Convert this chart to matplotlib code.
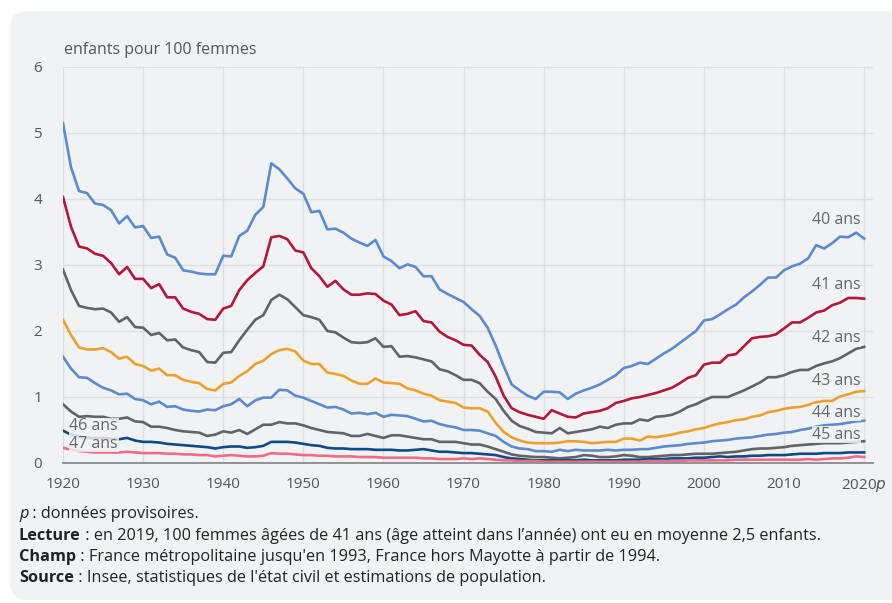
import matplotlib.pyplot as plt
from matplotlib.patches import FancyBboxPatch
import numpy as np

plt.rcParams['font.family'] = ['Open Sans', 'DejaVu Sans']

years = list(range(1920, 2021))

age40 = [5.15, 4.48, 4.12, 4.09, 3.93, 3.91, 3.83, 3.63, 3.74, 3.57,
         3.59, 3.41, 3.43, 3.16, 3.11, 2.92, 2.90, 2.87, 2.86, 2.86,
         3.14, 3.13, 3.44, 3.52, 3.76, 3.88, 4.54, 4.45, 4.31, 4.16,
         4.08, 3.80, 3.82, 3.54, 3.55, 3.49, 3.40, 3.34, 3.29, 3.38,
         3.13, 3.06, 2.95, 3.01, 2.97, 2.83, 2.83, 2.63, 2.56, 2.50,
         2.44, 2.33, 2.23, 2.05, 1.78, 1.47, 1.19, 1.10, 1.02, 0.97,
         1.08, 1.08, 1.07, 0.97, 1.05, 1.10, 1.14, 1.19, 1.26, 1.33,
         1.44, 1.47, 1.52, 1.50, 1.58, 1.66, 1.73, 1.82, 1.91, 2.00,
         2.16, 2.18, 2.25, 2.33, 2.40, 2.51, 2.60, 2.70, 2.81, 2.81,
         2.92, 2.98, 3.02, 3.10, 3.30, 3.25, 3.33, 3.43, 3.42, 3.49, 3.40]

age41 = [4.03, 3.58, 3.28, 3.25, 3.17, 3.14, 3.03, 2.86, 2.97, 2.79,
         2.79, 2.65, 2.71, 2.51, 2.51, 2.34, 2.29, 2.26, 2.18, 2.17,
         2.34, 2.38, 2.62, 2.77, 2.88, 2.98, 3.42, 3.44, 3.39, 3.22,
         3.19, 2.95, 2.83, 2.67, 2.76, 2.63, 2.55, 2.55, 2.57, 2.56,
         2.46, 2.40, 2.24, 2.26, 2.30, 2.15, 2.13, 1.99, 1.91, 1.86,
         1.79, 1.78, 1.64, 1.53, 1.31, 1.02, 0.83, 0.77, 0.73, 0.70,
         0.67, 0.80, 0.75, 0.70, 0.69, 0.75, 0.77, 0.79, 0.83, 0.91,
         0.94, 0.98, 1.00, 1.03, 1.06, 1.10, 1.14, 1.21, 1.29, 1.33,
         1.49, 1.52, 1.52, 1.63, 1.65, 1.77, 1.89, 1.91, 1.92, 1.95,
         2.04, 2.13, 2.13, 2.20, 2.28, 2.31, 2.39, 2.43, 2.50, 2.50, 2.49]

age42 = [2.93, 2.62, 2.38, 2.35, 2.33, 2.34, 2.28, 2.14, 2.21, 2.06,
         2.05, 1.94, 1.97, 1.86, 1.87, 1.75, 1.71, 1.68, 1.53, 1.52,
         1.67, 1.68, 1.86, 2.02, 2.17, 2.24, 2.47, 2.55, 2.48, 2.36,
         2.24, 2.21, 2.17, 2.00, 1.98, 1.90, 1.83, 1.82, 1.83, 1.89,
         1.76, 1.77, 1.61, 1.62, 1.60, 1.57, 1.54, 1.42, 1.39, 1.33,
         1.26, 1.26, 1.21, 1.08, 0.97, 0.79, 0.64, 0.56, 0.52, 0.47,
         0.46, 0.45, 0.53, 0.45, 0.47, 0.49, 0.51, 0.55, 0.53, 0.58,
         0.60, 0.60, 0.66, 0.64, 0.70, 0.71, 0.73, 0.78, 0.85, 0.89,
         0.95, 1.00, 1.00, 1.00, 1.05, 1.10, 1.16, 1.22, 1.30, 1.30,
         1.33, 1.38, 1.41, 1.41, 1.47, 1.51, 1.54, 1.59, 1.66, 1.73, 1.76]

age43 = [2.17, 1.94, 1.75, 1.72, 1.72, 1.74, 1.68, 1.58, 1.61, 1.50,
         1.47, 1.40, 1.43, 1.33, 1.33, 1.26, 1.23, 1.21, 1.12, 1.10,
         1.20, 1.22, 1.32, 1.39, 1.50, 1.55, 1.65, 1.71, 1.73, 1.69,
         1.55, 1.50, 1.50, 1.37, 1.35, 1.32, 1.25, 1.20, 1.20, 1.28,
         1.22, 1.21, 1.20, 1.13, 1.10, 1.05, 1.02, 0.95, 0.93, 0.91,
         0.84, 0.83, 0.83, 0.78, 0.61, 0.47, 0.39, 0.34, 0.31, 0.30,
         0.30, 0.30, 0.31, 0.33, 0.33, 0.32, 0.30, 0.31, 0.32, 0.32,
         0.37, 0.37, 0.34, 0.40, 0.39, 0.41, 0.43, 0.46, 0.48, 0.51,
         0.53, 0.57, 0.60, 0.62, 0.65, 0.66, 0.70, 0.72, 0.77, 0.79,
         0.82, 0.84, 0.85, 0.88, 0.92, 0.94, 0.94, 1.01, 1.04, 1.08, 1.09]

age44 = [1.61, 1.43, 1.30, 1.29, 1.21, 1.14, 1.10, 1.04, 1.05, 0.97,
         0.95, 0.89, 0.93, 0.85, 0.86, 0.81, 0.79, 0.78, 0.81, 0.80,
         0.86, 0.89, 0.97, 0.86, 0.95, 0.99, 0.99, 1.11, 1.10, 1.02,
         0.99, 0.94, 0.89, 0.84, 0.85, 0.81, 0.75, 0.76, 0.74, 0.76,
         0.70, 0.73, 0.72, 0.71, 0.67, 0.63, 0.64, 0.59, 0.56, 0.54,
         0.50, 0.50, 0.49, 0.45, 0.41, 0.32, 0.25, 0.22, 0.21, 0.18,
         0.18, 0.17, 0.20, 0.18, 0.20, 0.19, 0.19, 0.19, 0.20, 0.19,
         0.20, 0.20, 0.21, 0.21, 0.23, 0.25, 0.26, 0.27, 0.29, 0.30,
         0.31, 0.33, 0.34, 0.35, 0.37, 0.38, 0.39, 0.41, 0.43, 0.44,
         0.46, 0.47, 0.50, 0.52, 0.55, 0.57, 0.58, 0.59, 0.61, 0.63, 0.64]

age45 = [0.89, 0.78, 0.70, 0.71, 0.70, 0.70, 0.67, 0.67, 0.69, 0.63,
         0.62, 0.55, 0.55, 0.53, 0.50, 0.48, 0.47, 0.46, 0.41, 0.43,
         0.48, 0.46, 0.50, 0.44, 0.51, 0.58, 0.58, 0.62, 0.60, 0.60,
         0.57, 0.53, 0.50, 0.47, 0.46, 0.45, 0.41, 0.41, 0.44, 0.41,
         0.38, 0.42, 0.42, 0.40, 0.38, 0.36, 0.36, 0.32, 0.32, 0.32,
         0.30, 0.28, 0.28, 0.25, 0.21, 0.17, 0.13, 0.11, 0.10, 0.09,
         0.09, 0.08, 0.07, 0.08, 0.09, 0.12, 0.11, 0.09, 0.09, 0.10,
         0.12, 0.11, 0.09, 0.09, 0.10, 0.11, 0.12, 0.12, 0.13, 0.14,
         0.14, 0.14, 0.15, 0.16, 0.17, 0.19, 0.21, 0.22, 0.22, 0.23,
         0.24, 0.26, 0.27, 0.28, 0.29, 0.30, 0.30, 0.30, 0.31, 0.32, 0.33]

age46 = [0.49, 0.43, 0.40, 0.38, 0.38, 0.38, 0.37, 0.36, 0.38, 0.34,
         0.32, 0.32, 0.31, 0.29, 0.28, 0.27, 0.26, 0.25, 0.24, 0.22,
         0.24, 0.25, 0.25, 0.23, 0.24, 0.26, 0.32, 0.32, 0.32, 0.31,
         0.29, 0.27, 0.26, 0.23, 0.22, 0.22, 0.21, 0.21, 0.21, 0.20,
         0.20, 0.20, 0.19, 0.19, 0.20, 0.21, 0.19, 0.17, 0.17, 0.16,
         0.15, 0.15, 0.14, 0.13, 0.12, 0.09, 0.07, 0.06, 0.05, 0.04,
         0.04, 0.04, 0.04, 0.04, 0.04, 0.05, 0.04, 0.04, 0.04, 0.04,
         0.05, 0.05, 0.05, 0.06, 0.06, 0.06, 0.07, 0.07, 0.07, 0.08,
         0.08, 0.09, 0.10, 0.09, 0.10, 0.10, 0.11, 0.11, 0.12, 0.12,
         0.12, 0.13, 0.14, 0.14, 0.14, 0.15, 0.15, 0.15, 0.16, 0.16, 0.16]

age47 = [0.23, 0.20, 0.18, 0.17, 0.16, 0.16, 0.16, 0.16, 0.17, 0.16,
         0.15, 0.15, 0.15, 0.14, 0.14, 0.13, 0.13, 0.12, 0.12, 0.10,
         0.11, 0.12, 0.11, 0.10, 0.10, 0.11, 0.15, 0.14, 0.14, 0.13,
         0.12, 0.12, 0.11, 0.11, 0.10, 0.10, 0.10, 0.09, 0.09, 0.09,
         0.08, 0.08, 0.08, 0.08, 0.08, 0.07, 0.07, 0.06, 0.06, 0.06,
         0.07, 0.06, 0.07, 0.06, 0.05, 0.04, 0.04, 0.03, 0.03, 0.03,
         0.02, 0.02, 0.02, 0.02, 0.02, 0.02, 0.02, 0.02, 0.02, 0.02,
         0.02, 0.02, 0.02, 0.03, 0.03, 0.03, 0.03, 0.03, 0.04, 0.04,
         0.04, 0.04, 0.04, 0.04, 0.05, 0.05, 0.05, 0.05, 0.05, 0.05,
         0.05, 0.05, 0.05, 0.06, 0.05, 0.06, 0.07, 0.07, 0.08, 0.10, 0.09]

series = [age40, age41, age42, age43, age44, age45, age46, age47]
labels = ['40 ans', '41 ans', '42 ans', '43 ans', '44 ans', '45 ans', '46 ans', '47 ans']
colors = ['#5b8bcb', '#b3173c', '#636363', '#eba12d', '#5b8bcb', '#636363', '#0f4a85', '#ef6b87']

xticks = list(range(1920, 2021, 10))
xticklabels = [str(y) for y in xticks[:-1]] + ['2020$\\it{p}$']

# label positions (data coords)
label_pos = {
    '40 ans': (2019.6, 3.68, 'right'),
    '41 ans': (2019.6, 2.70, 'right'),
    '42 ans': (2019.6, 1.89, 'right'),
    '43 ans': (2019.6, 1.24, 'right'),
    '44 ans': (2019.6, 0.76, 'right'),
    '45 ans': (2019.6, 0.43, 'right'),
    '46 ans': (1920.8, 0.56, 'left'),
    '47 ans': (1920.8, 0.29, 'left'),
}

notes = [
    ('p', ' : données provisoires.', 'italic'),
    ('Lecture', ' : en 2019, 100 femmes âgées de 41 ans (âge atteint dans l\u2019année) ont eu en moyenne 2,5 enfants.', 'bold'),
    ('Champ', ' : France métropolitaine jusqu\'en 1993, France hors Mayotte à partir de 1994.', 'bold'),
    ('Source', ' : Insee, statistiques de l\'état civil et estimations de population.', 'bold'),
]

panel = '#f1f2f4'
fig = plt.figure(figsize=(8.92, 6.03), dpi=100)
fig.patch.set_facecolor('white')
fig.patches.append(FancyBboxPatch((10 / 892, 3 / 603), 1.2, 589 / 603,
                                  boxstyle='round,pad=0,rounding_size=0.02',
                                  transform=fig.transFigure, facecolor=panel,
                                  edgecolor='none', zorder=-10,
                                  mutation_aspect=892 / 603))

ax = fig.add_axes([63 / 892, 1 - 463 / 603, 810 / 892, 396 / 603])
ax.set_facecolor(panel)

for vals, lab, col in zip(series, labels, colors):
    ax.plot(years, vals, color=col, lw=1.9, solid_joinstyle='round', zorder=3)

for lab in labels:
    x, y, ha = label_pos[lab]
    ax.text(x, y, lab, ha=ha, va='center', fontsize=11.5, color='#666666', zorder=4,
            bbox=dict(facecolor=panel, edgecolor='none', pad=0.3, alpha=0.85))

ax.set_xlim(1920, 2021.1)
ax.set_ylim(0, 6)
ax.set_xticks(xticks)
ax.set_xticklabels(xticklabels)
ax.set_yticks(range(0, 7))
ax.tick_params(length=0, labelsize=11, labelcolor='#555555')
ax.tick_params(axis='x', pad=10)
ax.tick_params(axis='y', pad=15)
ax.grid(True, color='#dcdee2', lw=1)
ax.set_axisbelow(True)
for s in ['top', 'right', 'left']:
    ax.spines[s].set_visible(False)
ax.spines['bottom'].set_color('#8a8a8a')
ax.spines['bottom'].set_linewidth(1.3)
ax.spines['bottom'].set_zorder(5)

fig.text(64 / 892, 1 - 50 / 603, 'enfants pour 100 femmes', fontsize=11.5,
         color='#555555', va='center', ha='left')

renderer = fig.canvas.get_renderer()
for i, (head, rest, style) in enumerate(notes):
    y = 1 - (514 + 21.5 * i) / 603
    if style == 'italic':
        t = fig.text(19 / 892, y, head, fontsize=11.7, color='#222222', va='center',
                     ha='left', style='italic')
    else:
        t = fig.text(19 / 892, y, head, fontsize=11.7, color='#222222', va='center',
                     ha='left', weight='bold')
    bb = t.get_window_extent(renderer)
    fig.text(bb.x1 / 892, y, rest, fontsize=11.7, color='#222222', va='center', ha='left')

fig.savefig('out.png', dpi=100, facecolor='white')
